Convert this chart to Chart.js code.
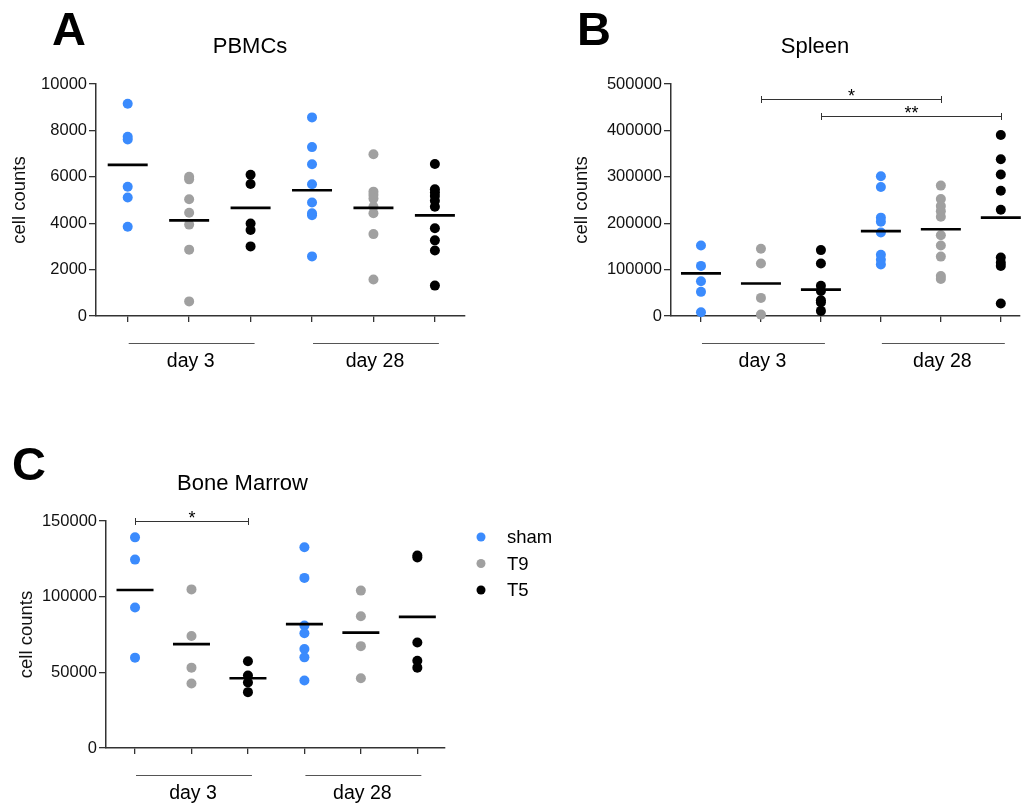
<!DOCTYPE html>
<html><head><meta charset="utf-8">
<script src="https://cdn.jsdelivr.net/npm/chart.js@4.4.1/dist/chart.umd.min.js"></script>
<style>
html,body{margin:0;padding:0;background:#fff;width:1022px;height:804px;overflow:hidden}
.panel{position:absolute}
canvas{display:block}
</style></head><body>
<div class="panel" style="left:0;top:0;"><canvas id="cA" width="500" height="400"></canvas></div>
<div class="panel" style="left:560px;top:0;"><canvas id="cB" width="462" height="400"></canvas></div>
<div class="panel" style="left:0;top:420px;"><canvas id="cC" width="600" height="384"></canvas></div>
<script>
// ---- categories / labels ----
const categories = ['sham day 3', 'T9 day 3', 'T5 day 3', 'sham day 28', 'T9 day 28', 'T5 day 28'];
const groupNames = ['sham', 'T9', 'T5'];
const dayLabels = ['day 3', 'day 28'];
const dayRanges = [[0, 2], [3, 5]];

// ---- Panel A: PBMCs ----
const pbmcTicks = [0, 2000, 4000, 6000, 8000, 10000];
const pbmcShamDay3 = [9150, 7730, 7610, 5570, 5110, 3850];
const pbmcT9Day3 = [6000, 5890, 5030, 4450, 3940, 2860, 630];
const pbmcT5Day3 = [6090, 5690, 3990, 3710, 3000];
const pbmcShamDay28 = [8560, 7280, 6540, 5680, 4890, 4430, 4340, 2570];
const pbmcT9Day28 = [6970, 5360, 5220, 5060, 4710, 4430, 3530, 1570];
const pbmcT5Day28 = [6550, 5460, 5320, 5170, 4970, 4710, 3780, 3260, 2820, 1310];
const pbmcMeans = [6510, 4120, 4660, 5420, 4660, 4340];

// ---- Panel B: Spleen ----
const spleenTicks = [0, 100000, 200000, 300000, 400000, 500000];
const spleenShamDay3 = [152000, 108000, 75000, 52000, 8000];
const spleenT9Day3 = [145000, 113000, 39000, 3000];
const spleenT5Day3 = [142000, 113000, 65000, 54000, 34000, 29000, 11000];
const spleenShamDay28 = [301000, 278000, 212000, 203000, 180000, 132000, 121000, 111000];
const spleenT9Day28 = [281000, 252000, 237000, 226000, 214000, 174000, 152000, 128000, 86000, 80000];
const spleenT5Day28 = [390000, 338000, 305000, 270000, 229000, 126000, 115000, 108000, 27000];
const spleenMeans = [92000, 70000, 57000, 183000, 187000, 212000];
const spleenBrackets = [[1, 4, 467000, '*'], [2, 5, 430000, '**']];

// ---- Panel C: Bone Marrow ----
const marrowTicks = [0, 50000, 100000, 150000];
const marrowShamDay3 = [139200, 124500, 92900, 59700];
const marrowT9Day3 = [104800, 74000, 53100, 42600];
const marrowT5Day3 = [57300, 47900, 43300, 36900];
const marrowShamDay28 = [132600, 112400, 81000, 75800, 65400, 59900, 44600];
const marrowT9Day28 = [104000, 87100, 67300, 46100];
const marrowT5Day28 = [127200, 125900, 69700, 57600, 53100];
const marrowMeans = [104400, 68600, 46100, 81900, 76200, 86700];
const marrowBrackets = [[0, 2, 150000, '*']];

// ---- styling ----
const FONT = '"Liberation Sans", Arial, Helvetica, sans-serif';
const groupColors = ['#3b8bfd', '#a0a0a0', '#000000'];

const decor = {
  id: 'decor',
  afterDraw(chart, args, o) {
    const ctx = chart.ctx, xs = chart.scales.x, ys = chart.scales.y;
    const base = chart.chartArea.bottom;
    ctx.save();
    ctx.fillStyle = '#000';
    ctx.textBaseline = 'alphabetic';
    ctx.textAlign = 'left';
    ctx.font = 'bold 47px ' + FONT;
    ctx.fillText(o.letter, o.letterX, o.letterY);
    ctx.textAlign = 'center';
    ctx.font = '22px ' + FONT;
    ctx.fillText(o.title, o.titleX, o.titleY);
    // day group lines
    ctx.strokeStyle = '#555';
    ctx.lineWidth = 1.2;
    ctx.font = '19.5px ' + FONT;
    ctx.textBaseline = 'middle';
    dayRanges.forEach((r, i) => {
      const x1 = xs.getPixelForValue(r[0]) + 1, x2 = xs.getPixelForValue(r[1]) + 4;
      const y = Math.round(base + 27) + 0.5;
      ctx.beginPath(); ctx.moveTo(x1, y); ctx.lineTo(x2, y); ctx.stroke();
      ctx.fillStyle = '#000';
      ctx.fillText(dayLabels[i], (x1 + x2) / 2 - 1, base + 46);
    });
    // significance brackets
    ctx.strokeStyle = '#333';
    ctx.lineWidth = 1;
    (o.brackets || []).forEach(b => {
      const x1 = Math.round(xs.getPixelForValue(b[0])) + 0.5, x2 = Math.round(xs.getPixelForValue(b[1])) + 0.5;
      const y = Math.round(ys.getPixelForValue(b[2])) + 0.5;
      ctx.beginPath();
      ctx.moveTo(x1, y); ctx.lineTo(x2, y);
      ctx.moveTo(x1, y - 3.5); ctx.lineTo(x1, y + 3.5);
      ctx.moveTo(x2, y - 3.5); ctx.lineTo(x2, y + 3.5);
      ctx.stroke();
      ctx.font = '18px ' + FONT;
      ctx.textBaseline = 'alphabetic';
      ctx.fillStyle = '#000';
      ctx.fillText(b[3], (x1 + x2) / 2, y + 2);
    });
    // legend
    if (o.legend) {
      const L = o.legend;
      groupNames.forEach((n, i) => {
        const y = L.y + i * L.step;
        ctx.fillStyle = groupColors[i];
        ctx.beginPath(); ctx.arc(L.x, y, 4.5, 0, Math.PI * 2); ctx.fill();
        ctx.fillStyle = '#000';
        ctx.font = '18.5px ' + FONT;
        ctx.textAlign = 'left';
        ctx.textBaseline = 'middle';
        ctx.fillText(n, L.textX, y + 1);
      });
    }
    ctx.restore();
  }
};

function makeChart(id, p) {
  const datasets = [{
    label: 'mean',
    data: p.means.map((v, i) => ({x: i, y: v})),
    pointStyle: 'line', pointRadius: p.meanHalf, pointHoverRadius: p.meanHalf,
    borderColor: '#000', backgroundColor: '#000', borderWidth: 2.7, clip: false
  }];
  groupNames.forEach((n, g) => {
    const d = p.groups[g][0].map(v => ({x: g, y: v})).concat(p.groups[g][1].map(v => ({x: g + 3, y: v})));
    datasets.push({
      label: n, data: d, backgroundColor: groupColors[g], borderColor: groupColors[g],
      pointRadius: 5, pointHoverRadius: 5, pointBorderWidth: 0, borderWidth: 0, clip: false
    });
  });
  return new Chart(document.getElementById(id), {
    type: 'scatter',
    data: {datasets},
    plugins: [decor],
    options: {
      responsive: false, animation: false, events: [],
      layout: {padding: p.padding, autoPadding: false},
      plugins: {legend: {display: false}, tooltip: {enabled: false}, decor: p.decor},
      scales: {
        x: {
          type: 'linear', min: p.xmin, max: p.xmax,
          afterBuildTicks: s => { s.ticks = categories.map((c, i) => ({value: i})); },
          afterFit: s => { s.height = 10; },
          ticks: {display: false},
          grid: {drawOnChartArea: false, drawTicks: true, tickLength: 6, color: '#333', lineWidth: 1.3},
          border: {color: '#333', width: 1.5}
        },
        y: {
          type: 'linear', min: 0, max: p.ticks[p.ticks.length - 1],
          afterBuildTicks: s => { s.ticks = p.ticks.map(v => ({value: v})); },
          afterFit: s => { s.width = p.yWidth; },
          ticks: {font: {family: FONT, size: 16.5}, color: '#111', padding: 2, callback: v => String(v)},
          grid: {drawOnChartArea: false, drawTicks: true, tickLength: 7, color: '#333', lineWidth: 1.3},
          border: {color: '#333', width: 1.5},
          title: {display: true, text: 'cell counts', font: {family: FONT, size: 18.5}, color: '#111', padding: {top: 9, bottom: 0}}
        }
      }
    }
  });
}

makeChart('cA', {
  ticks: pbmcTicks, means: pbmcMeans, meanHalf: 20,
  groups: [[pbmcShamDay3, pbmcShamDay28], [pbmcT9Day3, pbmcT9Day28], [pbmcT5Day3, pbmcT5Day28]],
  xmin: -0.516, xmax: 5.49, yWidth: 96,
  padding: {left: 0, top: 84, right: 35, bottom: 74},
  decor: {letter: 'A', letterX: 52, letterY: 45, title: 'PBMCs', titleX: 250, titleY: 53}
});
makeChart('cB', {
  ticks: spleenTicks, means: spleenMeans, meanHalf: 20,
  groups: [[spleenShamDay3, spleenShamDay28], [spleenT9Day3, spleenT9Day28], [spleenT5Day3, spleenT5Day28]],
  xmin: -0.5, xmax: 5.32, yWidth: 109,
  padding: {left: 2, top: 84, right: 2, bottom: 74},
  decor: {letter: 'B', letterX: 17, letterY: 45, title: 'Spleen', titleX: 255, titleY: 53, brackets: spleenBrackets}
});
makeChart('cC', {
  ticks: marrowTicks, means: marrowMeans, meanHalf: 18.5,
  groups: [[marrowShamDay3, marrowShamDay28], [marrowT9Day3, marrowT9Day28], [marrowT5Day3, marrowT5Day28]],
  xmin: -0.514, xmax: 5.49, yWidth: 99,
  padding: {left: 7, top: 101, right: 155, bottom: 46},
  decor: {letter: 'C', letterX: 12, letterY: 480 - 420, title: 'Bone Marrow', titleX: 242.5, titleY: 490 - 420,
    brackets: marrowBrackets, legend: {x: 481, y: 117, step: 26.5, textX: 507}}
});
</script>
</body></html>
